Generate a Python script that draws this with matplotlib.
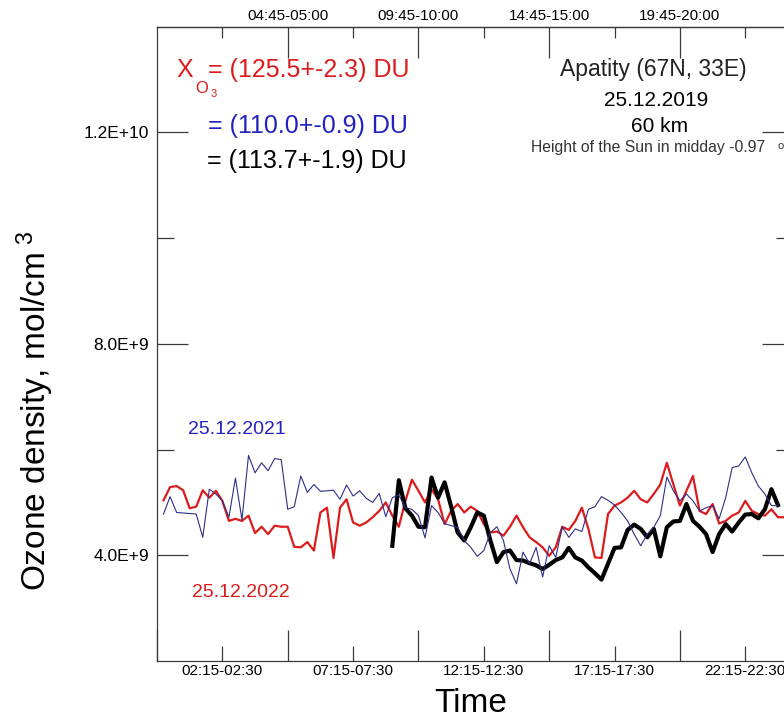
import numpy as np
import matplotlib
matplotlib.use('Agg')
import matplotlib.pyplot as plt
from matplotlib.ticker import FixedLocator, FixedFormatter, NullFormatter

plt.rcParams['font.family'] = ['Liberation Sans', 'DejaVu Sans']
plt.rcParams['mathtext.fontset'] = 'custom'
plt.rcParams['mathtext.rm'] = 'Liberation Sans'
plt.rcParams['mathtext.it'] = 'Liberation Sans:italic'

W, H = 784, 726

# Ozone density, units of 1e9 mol/cm^3, one value per 15-min slot (slot 1 = 00:00-00:15)
red_2022 = [5.04, 5.29, 5.31, 5.23, 4.89, 4.92, 5.23, 5.09, 5.22, 5.03,
            4.65, 4.69, 4.65, 4.75, 4.42, 4.54, 4.40, 4.56, 4.54, 4.54,
            4.16, 4.15, 4.25, 4.09, 4.81, 4.90, 3.95, 4.90, 5.06, 4.62,
            4.56, 4.62, 4.72, 4.84, 5.00, 4.75, 4.54, 5.03, 5.43, 5.22,
            5.00, 5.25, 5.06, 4.59, 4.84, 4.97, 4.81, 4.92, 4.84, 4.59,
            4.43, 4.45, 4.37, 4.54, 4.75, 4.53, 4.34, 4.25, 4.15, 3.99,
            4.15, 4.54, 4.48, 4.65, 4.90, 4.50, 3.96, 3.95, 4.78, 4.94,
            5.00, 5.09, 5.22, 5.06, 5.00, 5.16, 5.34, 5.75, 5.34, 4.94,
            5.22, 5.50, 4.84, 4.78, 4.97, 4.60, 4.65, 4.75, 4.81, 5.03,
            4.84, 4.78, 4.75, 4.87, 4.72, 4.72]
blue_2021 = [4.78, 5.11, 4.81, 4.80, 4.79, 4.78, 4.34, 5.25, 5.16, 5.03,
             4.72, 5.46, 4.67, 5.89, 5.56, 5.75, 5.60, 5.83, 5.81, 4.87,
             4.92, 5.50, 5.19, 5.34, 5.21, 5.22, 5.23, 5.06, 5.33, 5.12,
             5.22, 5.08, 5.00, 5.17, 4.73, 5.09, 5.14, 4.90, 4.87, 4.75,
             4.33, 4.94, 4.81, 4.60, 4.56, 4.53, 4.28, 4.15, 3.98, 4.09,
             4.43, 4.54, 4.28, 3.74, 3.46, 4.06, 3.84, 4.15, 3.59, 4.18,
             3.96, 4.54, 4.34, 4.50, 4.45, 4.87, 4.92, 5.11, 5.04, 4.95,
             4.81, 4.65, 4.40, 4.18, 4.40, 4.53, 4.75, 5.48, 5.22, 5.03,
             5.16, 5.03, 4.84, 4.90, 4.94, 4.69, 5.09, 5.66, 5.69, 5.86,
             5.56, 5.31, 5.16, 4.94, 4.94]
black_start = 36
black_2019 = [4.18, 5.42, 4.89, 4.75, 4.54, 4.53, 5.47, 5.09, 5.38, 4.92,
              4.43, 4.28, 4.53, 4.81, 4.75, 4.28, 3.87, 4.06, 4.09, 3.91,
              3.90, 3.85, 3.81, 3.74, 3.82, 3.91, 3.96, 4.14, 3.96, 3.90,
              3.77, 3.66, 3.54, 3.84, 4.14, 4.15, 4.48, 4.58, 4.50, 4.34,
              4.50, 3.98, 4.53, 4.64, 4.65, 4.97, 4.65, 4.54, 4.40, 4.06,
              4.40, 4.59, 4.45, 4.62, 4.77, 4.78, 4.70, 4.87, 5.25, 4.95]

bottom_tick_pos = [10, 30, 50, 70, 90]
bottom_tick_labels = ['02:15-02:30', '07:15-07:30', '12:15-12:30', '17:15-17:30', '22:15-22:30']
bottom_minor_pos = [0, 20, 40, 60, 80]
top_tick_pos = [20, 40, 60, 80]
top_tick_labels = ['04:45-05:00', '09:45-10:00', '14:45-15:00', '19:45-20:00']
top_minor_pos = [10, 30, 50, 70, 90]
y_tick_vals = [4.0e9, 8.0e9, 1.2e10]
y_tick_labels = ['4.0E+9', '8.0E+9', '1.2E+10']
y_minor_vals = [6.0e9, 1.0e10]

RED = '#dc1c1c'
BLUE_LINE = '#2e2e8c'
BLUE_TXT = '#2222c0'
AXC = '#3a3a3a'

fig = plt.figure(figsize=(W / 100, H / 100), dpi=100)
ax_l, ax_r, ax_t, ax_b = 157, 793, 26.7, 661
ax = fig.add_axes([ax_l / W, 1 - ax_b / H, (ax_r - ax_l) / W, (ax_b - ax_t) / H])

x_red = np.arange(1, len(red_2022) + 1)
x_blue = np.arange(1, len(blue_2021) + 1)
x_black = np.arange(black_start, black_start + len(black_2019))

ax.plot(x_red, np.array(red_2022) * 1e9, color=RED, lw=1.6, zorder=3)
ax.plot(x_black, np.array(black_2019) * 1e9, color='black', lw=3.0, zorder=4)
ax.plot(x_blue, np.array(blue_2021) * 1e9, color=BLUE_LINE, lw=0.8, zorder=5)

ax.set_xlim(0, 97.3)
ax.set_ylim(2.0e9, 1.4e10)

for s in ax.spines.values():
    s.set_color(AXC)
    s.set_linewidth(0.9)

ax.xaxis.set_major_locator(FixedLocator(bottom_tick_pos))
ax.xaxis.set_major_formatter(FixedFormatter(bottom_tick_labels))
ax.xaxis.set_minor_locator(FixedLocator(bottom_minor_pos))
ax.xaxis.set_minor_formatter(NullFormatter())
ax.tick_params(axis='x', which='major', direction='in', length=11, width=0.9,
               color=AXC, labelsize=11, pad=2.5, top=False)
ax.tick_params(axis='x', which='minor', direction='in', length=22, width=0.9,
               color=AXC, top=False)

ax.yaxis.set_major_locator(FixedLocator(y_tick_vals))
ax.yaxis.set_major_formatter(FixedFormatter(y_tick_labels))
ax.yaxis.set_minor_locator(FixedLocator(y_minor_vals))
ax.yaxis.set_minor_formatter(NullFormatter())
ax.tick_params(axis='y', which='major', direction='in', length=22, width=0.9,
               color=AXC, labelsize=12.5, pad=5.5, right=True)
ax.tick_params(axis='y', which='minor', direction='in', length=12, width=0.9,
               color=AXC, right=True)

sec = ax.secondary_xaxis('top')
sec.xaxis.set_major_locator(FixedLocator(top_tick_pos))
sec.xaxis.set_major_formatter(FixedFormatter(top_tick_labels))
sec.xaxis.set_minor_locator(FixedLocator(top_minor_pos))
sec.xaxis.set_minor_formatter(NullFormatter())
sec.tick_params(axis='x', which='major', direction='in', length=22, width=0.9,
                color=AXC, labelsize=11, pad=3)
sec.tick_params(axis='x', which='minor', direction='in', length=8, width=0.9, color=AXC)
sec.spines['top'].set_color(AXC)
sec.spines['top'].set_linewidth(0.9)


def ftext(x, y, s, **kw):
    return fig.text(x / W, 1 - y / H, s, **kw)


# Integral ozone content annotations
ftext(176, 77, 'X', color=RED, fontsize=18, ha='left', va='baseline')
ftext(195, 93, 'O', color=RED, fontsize=12, ha='left', va='baseline')
ftext(211, 97, '3', color=RED, fontsize=8, ha='left', va='baseline')
ftext(208, 77, '= (125.5+-2.3) DU', color=RED, fontsize=18, ha='left', va='baseline')
ftext(208, 133, '= (110.0+-0.9) DU', color=BLUE_TXT, fontsize=18, ha='left', va='baseline')
ftext(207, 168, '= (113.7+-1.9) DU', color='black', fontsize=18, ha='left', va='baseline')

# Station info
ftext(653, 76, 'Apatity (67N, 33E)', color='#222222', fontsize=16.5, ha='center', va='baseline')
ftext(656, 106, '25.12.2019', color='black', fontsize=15, ha='center', va='baseline')
ftext(660, 132, '60 km', color='black', fontsize=15, ha='center', va='baseline')
ftext(531, 152, 'Height of the Sun in midday -0.97', color='#333333', fontsize=11.3,
      ha='left', va='baseline')
ftext(777, 149, 'o', color='#333333', fontsize=8, ha='left', va='baseline')

# Series date labels
ftext(188, 434, '25.12.2021', color=BLUE_TXT, fontsize=14, ha='left', va='baseline')
ftext(192, 597, '25.12.2022', color=RED, fontsize=14, ha='left', va='baseline')

# Axis titles
ftext(35, 411, r'Ozone density, mol/cm$^{\mathrm{\ 3}}$', fontsize=24, rotation=90,
      ha='center', va='center', color='black')
ftext(471, 712, 'Time', fontsize=24, ha='center', va='baseline', color='black')

fig.savefig('out.png', dpi=100)
